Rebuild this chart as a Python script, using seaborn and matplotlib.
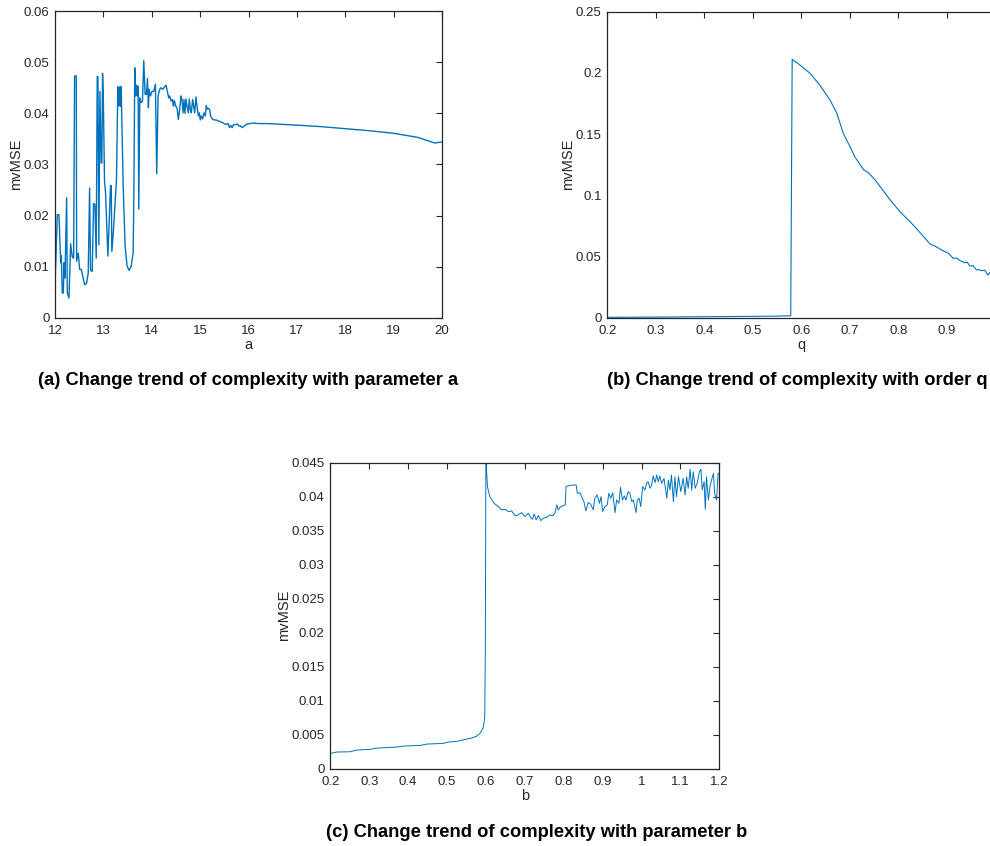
import matplotlib
matplotlib.use("Agg")
import matplotlib.pyplot as plt
import matplotlib.ticker as mticker
import pandas as pd
import seaborn as sns

# ---- (a) mvMSE versus parameter a ----
a_vals = [12.000, 12.048, 12.082, 12.117, 12.131, 12.151, 12.172, 12.186, 12.206, 12.241,
          12.254, 12.289, 12.323, 12.357, 12.385, 12.405, 12.440, 12.447, 12.481, 12.509,
          12.543, 12.612, 12.653, 12.687, 12.715, 12.735, 12.770, 12.797, 12.825, 12.852,
          12.873, 12.887, 12.907, 12.928, 12.955, 12.969, 12.983, 12.997, 13.024, 13.045,
          13.093, 13.148, 13.162, 13.175, 13.203, 13.237, 13.271, 13.299, 13.320, 13.340,
          13.354, 13.368, 13.409, 13.450, 13.491, 13.533, 13.574, 13.615, 13.629, 13.649,
          13.670, 13.691, 13.704, 13.718, 13.732, 13.753, 13.780, 13.808, 13.835, 13.863,
          13.890, 13.911, 13.931, 13.945, 13.973, 14.007, 14.041, 14.076, 14.103, 14.131,
          14.165, 14.192, 14.227, 14.261, 14.296, 14.330, 14.351, 14.371, 14.399, 14.426,
          14.447, 14.467, 14.495, 14.522, 14.550, 14.577, 14.605, 14.625, 14.646, 14.667,
          14.687, 14.708, 14.729, 14.756, 14.777, 14.797, 14.818, 14.845, 14.866, 14.887,
          14.914, 14.935, 14.962, 14.983, 15.003, 15.024, 15.052, 15.079, 15.107, 15.127,
          15.148, 15.168, 15.196, 15.216, 15.251, 15.292, 15.333, 15.375, 15.416, 15.457,
          15.498, 15.540, 15.581, 15.608, 15.636, 15.663, 15.691, 15.732, 15.773, 15.801,
          15.828, 15.869, 15.911, 15.966, 16.021, 16.103, 16.206, 16.378, 17.0, 17.5,
          18.0, 18.5, 19.0, 19.5, 19.85, 20.0]
mvmse_a = [0.0062, 0.0202, 0.0202, 0.0108, 0.0122, 0.0049, 0.0049, 0.0108, 0.0078, 0.0235,
           0.0049, 0.0039, 0.0145, 0.0119, 0.0117, 0.0473, 0.0473, 0.0111, 0.0127, 0.0095,
           0.0095, 0.0065, 0.0068, 0.0088, 0.0254, 0.0093, 0.0091, 0.0224, 0.0222, 0.0117,
           0.0472, 0.0472, 0.0143, 0.0443, 0.0303, 0.0303, 0.0478, 0.0440, 0.0267, 0.0245,
           0.0121, 0.0259, 0.0259, 0.0130, 0.0163, 0.0218, 0.0271, 0.0452, 0.0414, 0.0452,
           0.0414, 0.0452, 0.0258, 0.0140, 0.0101, 0.0093, 0.0101, 0.0127, 0.0232, 0.0489,
           0.0434, 0.0455, 0.0434, 0.0453, 0.0213, 0.0430, 0.0421, 0.0424, 0.0503, 0.0437,
           0.0437, 0.0468, 0.0411, 0.0447, 0.0434, 0.0443, 0.0443, 0.0457, 0.0282, 0.0434,
           0.0447, 0.0450, 0.0447, 0.0451, 0.0455, 0.0440, 0.0430, 0.0434, 0.0424, 0.0427,
           0.0414, 0.0425, 0.0414, 0.0411, 0.0388, 0.0408, 0.0434, 0.0427, 0.0401, 0.0427,
           0.0400, 0.0428, 0.0414, 0.0401, 0.0428, 0.0408, 0.0401, 0.0427, 0.0414, 0.0401,
           0.0432, 0.0414, 0.0395, 0.0401, 0.0387, 0.0395, 0.0389, 0.0401, 0.0395, 0.0415,
           0.0408, 0.0410, 0.0408, 0.0395, 0.0389, 0.0387, 0.0387, 0.0385, 0.0384, 0.0382,
           0.0380, 0.0378, 0.0380, 0.0372, 0.0376, 0.0372, 0.0378, 0.0378, 0.0379, 0.0375,
           0.0376, 0.0372, 0.0375, 0.0379, 0.0380, 0.0381, 0.0380, 0.0380, 0.0377, 0.0374,
           0.0370, 0.0366, 0.0361, 0.0353, 0.0342, 0.0344]

# ---- (b) mvMSE versus fractional order q ----
q_vals = [0.2, 0.3, 0.4, 0.5, 0.55, 0.578, 0.581, 0.597, 0.618, 0.638,
          0.659, 0.673, 0.686, 0.693, 0.700, 0.710, 0.728, 0.738, 0.752, 0.765,
          0.783, 0.803, 0.824, 0.841, 0.861, 0.865, 0.875, 0.889, 0.903, 0.913,
          0.920, 0.927, 0.937, 0.942, 0.947, 0.954, 0.961, 0.966, 0.971, 0.978,
          0.984, 0.989]
mvmse_q = [0.0003, 0.0005, 0.0008, 0.0011, 0.0013, 0.0016, 0.2111, 0.2064, 0.1996, 0.1900,
           0.1778, 0.1670, 0.1510, 0.1452, 0.1400, 0.1315, 0.1210, 0.1185, 0.1125, 0.1057,
           0.0962, 0.0866, 0.0784, 0.0711, 0.0621, 0.0602, 0.0586, 0.0553, 0.0526, 0.0485,
           0.0487, 0.0466, 0.0449, 0.0453, 0.0422, 0.0425, 0.0390, 0.0393, 0.0384, 0.0388,
           0.0349, 0.0371]

# ---- (c) mvMSE versus parameter b ----
b_vals = [0.200, 0.216, 0.251, 0.268, 0.302, 0.319, 0.371, 0.388, 0.431, 0.448,
          0.490, 0.503, 0.529, 0.546, 0.563, 0.576, 0.586, 0.593, 0.597, 0.5985,
          0.600, 0.604, 0.610, 0.621, 0.632, 0.640, 0.649, 0.658, 0.666, 0.675,
          0.683, 0.692, 0.700, 0.709, 0.715, 0.720, 0.724, 0.729, 0.735, 0.741,
          0.748, 0.756, 0.765, 0.772, 0.778, 0.782, 0.786, 0.792, 0.799, 0.804,
          0.806, 0.816, 0.832, 0.835, 0.842, 0.846, 0.852, 0.857, 0.863, 0.869,
          0.876, 0.880, 0.886, 0.892, 0.896, 0.900, 0.906, 0.912, 0.916, 0.921,
          0.926, 0.932, 0.936, 0.942, 0.946, 0.951, 0.956, 0.960, 0.966, 0.970,
          0.975, 0.979, 0.986, 0.989, 0.994, 0.998, 1.003, 1.009, 1.013, 1.017,
          1.022, 1.026, 1.030, 1.035, 1.039, 1.043, 1.047, 1.052, 1.058, 1.065,
          1.069, 1.073, 1.077, 1.082, 1.086, 1.090, 1.095, 1.101, 1.107, 1.112,
          1.116, 1.120, 1.125, 1.129, 1.133, 1.138, 1.143, 1.149, 1.153, 1.156,
          1.161, 1.164, 1.167, 1.172, 1.176, 1.180, 1.185, 1.188, 1.193, 1.197,
          1.200]
mvmse_b = [0.00225, 0.00245, 0.00249, 0.00274, 0.00284, 0.00303, 0.00318, 0.00333, 0.00342, 0.00362,
           0.00372, 0.00391, 0.00406, 0.00430, 0.00450, 0.00479, 0.00528, 0.00602, 0.00748, 0.01751,
           0.04550, 0.04148, 0.04001, 0.03903, 0.03854, 0.03806, 0.03815, 0.03781, 0.03791, 0.03718,
           0.03732, 0.03766, 0.03708, 0.03757, 0.03693, 0.03669, 0.03747, 0.03659, 0.03722, 0.03649,
           0.03683, 0.03698, 0.03732, 0.03718, 0.03766, 0.03879, 0.03806, 0.03854, 0.03869, 0.03879,
           0.04148, 0.04168, 0.04172, 0.04050, 0.04060, 0.04001, 0.03928, 0.03791, 0.03913, 0.03894,
           0.03806, 0.03977, 0.04026, 0.03903, 0.04001, 0.03781, 0.03854, 0.03879, 0.04050, 0.03977,
           0.04060, 0.03766, 0.03952, 0.03903, 0.04138, 0.03952, 0.04011, 0.03952, 0.04075, 0.04050,
           0.03928, 0.03952, 0.03766, 0.03952, 0.03977, 0.03854, 0.04148, 0.04099, 0.04197, 0.04221,
           0.04124, 0.04172, 0.04304, 0.04207, 0.04319, 0.04221, 0.04304, 0.04197, 0.04270, 0.03977,
           0.04245, 0.04099, 0.04319, 0.03928, 0.04295, 0.04001, 0.04295, 0.04075, 0.04270, 0.04026,
           0.04295, 0.04124, 0.04402, 0.04099, 0.04368, 0.04124, 0.04197, 0.04368, 0.04402, 0.04099,
           0.04221, 0.03815, 0.04295, 0.03952, 0.04148, 0.04245, 0.04343, 0.04050, 0.03952, 0.04343,
           0.04334]

x_ticks_a = [12, 13, 14, 15, 16, 17, 18, 19, 20]
y_ticks_a = [0, 0.01, 0.02, 0.03, 0.04, 0.05, 0.06]
x_ticks_q = [0.2, 0.3, 0.4, 0.5, 0.6, 0.7, 0.8, 0.9]
y_ticks_q = [0, 0.05, 0.1, 0.15, 0.2, 0.25]
x_ticks_b = [0.2, 0.3, 0.4, 0.5, 0.6, 0.7, 0.8, 0.9, 1.0, 1.1, 1.2]
y_ticks_b = [0, 0.005, 0.01, 0.015, 0.02, 0.025, 0.03, 0.035, 0.04, 0.045]

titles = ["(a) Change trend of complexity with parameter a",
          "(b) Change trend of complexity with order q",
          "(c) Change trend of complexity with parameter b"]

sns.set_style("white")
plt.rcParams["font.family"] = ["Liberation Sans", "DejaVu Sans"]
plt.rcParams.update({
    "xtick.direction": "in", "ytick.direction": "in",
    "xtick.top": True, "ytick.right": True,
    "xtick.major.size": 4.5, "ytick.major.size": 4.5,
    "xtick.major.width": 0.8, "ytick.major.width": 0.8,
    "axes.linewidth": 0.9, "axes.edgecolor": "#262626",
    "xtick.color": "#262626", "ytick.color": "#262626",
    "xtick.labelsize": 9.5, "ytick.labelsize": 9.5,
    "axes.labelsize": 10.5, "axes.labelcolor": "#262626",
})

LINE = "#0072BD"
W, H = 990, 846
fig = plt.figure(figsize=(W / 100, H / 100), dpi=100)


def box(left, top, right, bottom):
    return [left / W, 1 - bottom / H, (right - left) / W, (bottom - top) / H]


fmt = mticker.FuncFormatter(lambda v, p: f"{round(v, 6):g}")

panels = [
    (box(55, 11, 442, 318), a_vals, mvmse_a, "a", (12, 20), (0, 0.06), x_ticks_a, y_ticks_a, 1.0),
    (box(607.3, 11.7, 995.5, 317.7), q_vals, mvmse_q, "q", (0.2, 1.0), (0, 0.25), x_ticks_q, y_ticks_q, 0.8),
    (box(330.3, 462.7, 719.3, 768.7), b_vals, mvmse_b, "b", (0.2, 1.2), (0, 0.045), x_ticks_b, y_ticks_b, 0.7),
]

for rect, xs, ys, xl, xlim, ylim, xt, yt, lw in panels:
    ax = fig.add_axes(rect)
    df = pd.DataFrame({xl: xs, "mvMSE": ys})
    sns.lineplot(data=df, x=xl, y="mvMSE", ax=ax, color=LINE, linewidth=lw,
                 estimator=None, sort=False)
    ax.set_xlim(*xlim)
    ax.set_ylim(*ylim)
    ax.set_xticks(xt)
    ax.set_yticks(yt)
    ax.xaxis.set_major_formatter(fmt)
    ax.yaxis.set_major_formatter(fmt)
    ax.tick_params(axis="x", pad=5)
    ax.tick_params(axis="y", pad=4)
    ax.set_xlabel(xl, labelpad=1)
    ax.set_ylabel("mvMSE", labelpad=0.5)
    for s in ax.spines.values():
        s.set_visible(True)

fig.text(248 / W, 1 - 380 / H, titles[0], ha="center", va="center",
         fontsize=13.2, fontweight="bold", color="black")
fig.text(797 / W, 1 - 380 / H, titles[1], ha="center", va="center",
         fontsize=13.2, fontweight="bold", color="black")
fig.text(537 / W, 1 - 832 / H, titles[2], ha="center", va="center",
         fontsize=13.2, fontweight="bold", color="black")

fig.savefig("out.png", dpi=100, facecolor="white")
